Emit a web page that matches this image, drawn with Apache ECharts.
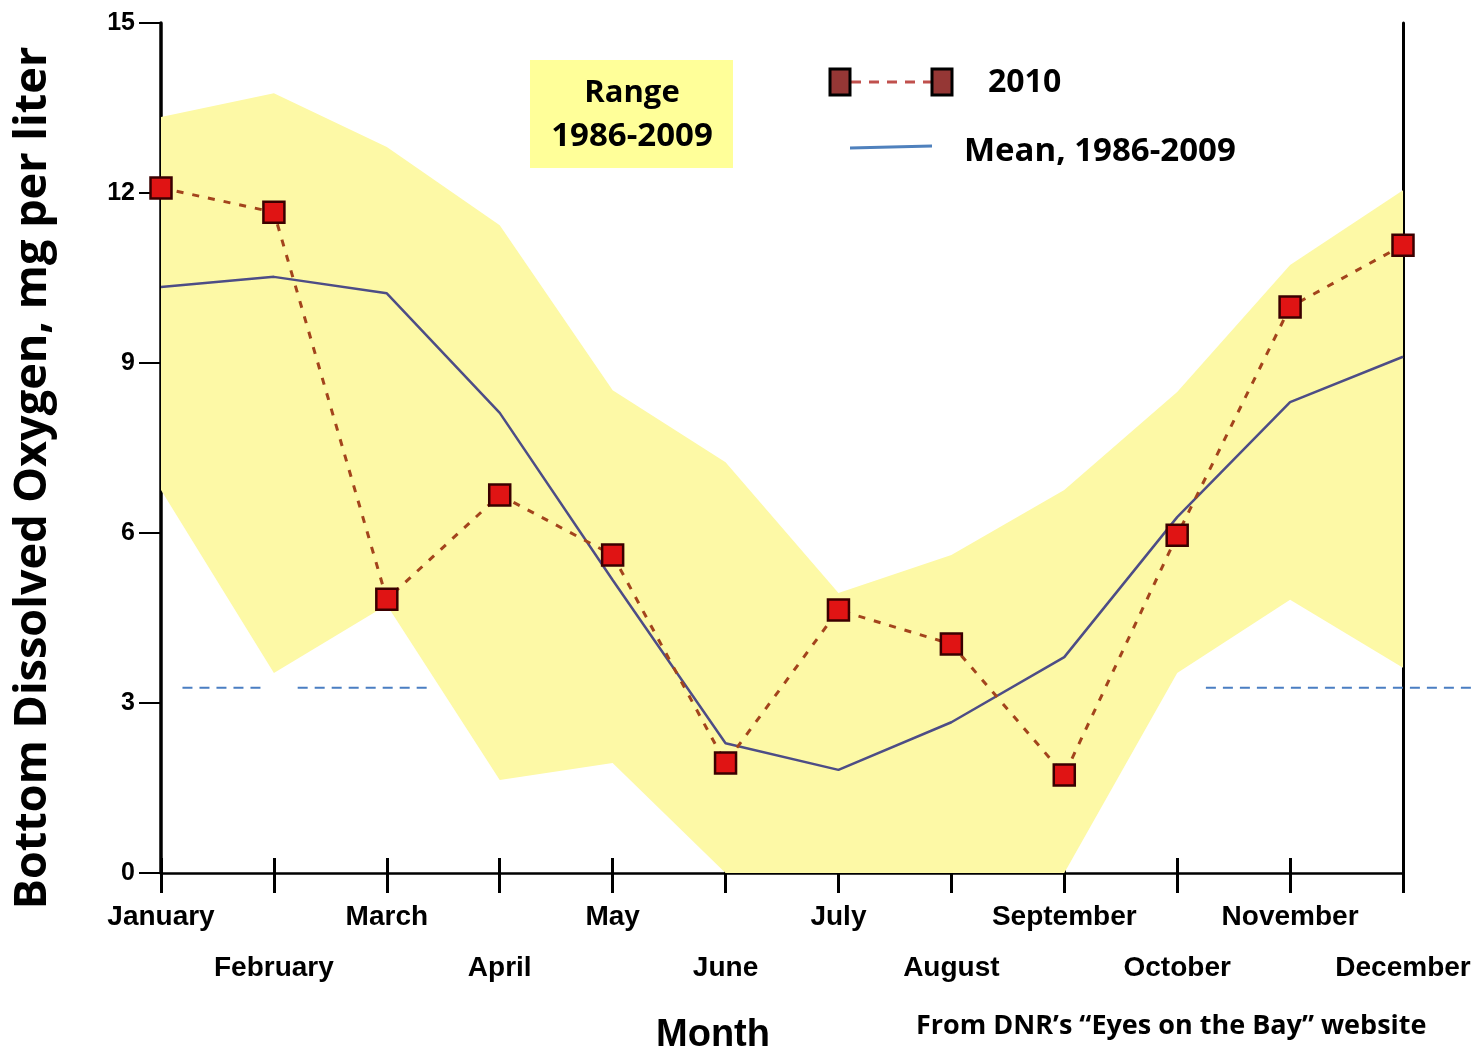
<!DOCTYPE html>
<html>
<head>
<meta charset="utf-8">
<script src="https://cdn.jsdelivr.net/npm/echarts@6/dist/echarts.min.js"></script>
<style>
html,body{margin:0;padding:0;background:#fff;}
#c{width:1477px;height:1053px;}
</style>
</head>
<body>
<div id="c"></div>
<script>
// ---- data ----
const months = ['January','February','March','April','May','June','July','August','September','October','November','December'];
const yTicks = [0, 3, 6, 9, 12, 15];
const obs2010 = [12.09, 11.66, 4.83, 6.67, 5.61, 1.94, 4.64, 4.04, 1.73, 5.96, 9.99, 11.08];
const mean8609 = [10.34, 10.52, 10.23, 8.12, 5.17, 2.29, 1.82, 2.66, 3.81, 6.28, 8.31, 9.11];
const rangeHigh = [13.34, 13.76, 12.81, 11.43, 8.52, 7.25, 4.94, 5.61, 6.76, 8.49, 10.73, 12.05];
const rangeLow = [6.76, 3.53, 4.73, 1.64, 1.94, 0, 0, 0, 0, 3.53, 4.82, 3.62];
const refLevel = 3.27;
const refSegments = [[0.19, 0.89], [1.21, 2.37], [9.25, 11.65]];

// ---- chart ----
const chart = echarts.init(document.getElementById('c'), null, {renderer: 'canvas'});
const bandDiff = rangeHigh.map((h, i) => +(h - rangeLow[i]).toFixed(2));
const yMin = yTicks[0], yMax = yTicks[yTicks.length - 1], yStep = yTicks[1] - yTicks[0];

const refSeries = refSegments.map(seg => ({
  type: 'line', xAxisIndex: 2, yAxisIndex: 2, silent: true, z: 1,
  symbol: 'none',
  data: [[seg[0], refLevel], [seg[1], refLevel]],
  lineStyle: {color: '#4a7ec2', width: 2, type: [10, 7]}
}));

chart.setOption({
  animation: false,
  backgroundColor: '#fff',
  grid: [
    {left: 161, right: 74, top: 23, bottom: 180},
    {left: 161, right: 0, top: 23, bottom: 180}
  ],
  xAxis: [
    {
      type: 'category', gridIndex: 0, data: months, boundaryGap: false, position: 'bottom',
      offset: -15,
      axisLine: {show: false},
      axisTick: {show: true, interval: 0, length: 35, lineStyle: {color: '#000', width: 3}},
      axisLabel: {
        interval: 0, margin: 34, color: '#000',
        fontFamily: 'Liberation Sans', fontWeight: 'bold', fontSize: 28, lineHeight: 51,
        formatter: (v, i) => (i % 2 ? '\n' + v : v)
      },
      splitLine: {show: false}
    },
    {
      type: 'category', gridIndex: 0, data: months, boundaryGap: false, position: 'top',
      axisLine: {show: true, lineStyle: {color: '#000', width: 2.5}},
      axisTick: {show: false}, axisLabel: {show: false}, splitLine: {show: false}
    },
    {type: 'value', gridIndex: 1, min: 0, max: 11.65, show: false}
  ],
  yAxis: [
    {
      type: 'value', gridIndex: 0, min: yMin, max: yMax, interval: yStep,
      axisLine: {show: true, lineStyle: {color: '#000', width: 3.5}},
      axisTick: {show: true, length: 22, lineStyle: {color: '#000', width: 2}},
      axisLabel: {margin: 26, color: '#000', fontFamily: 'Liberation Sans', fontWeight: 'bold', fontSize: 25},
      splitLine: {show: false}
    },
    {
      type: 'value', gridIndex: 0, min: yMin, max: yMax, interval: yStep, position: 'right',
      axisLine: {show: true, lineStyle: {color: '#000', width: 3}},
      axisTick: {show: false}, axisLabel: {show: false}, splitLine: {show: false}
    },
    {type: 'value', gridIndex: 1, min: yMin, max: yMax, show: false}
  ],
  series: [
    ...refSeries,
    {
      name: 'rangeLow', type: 'line', xAxisIndex: 0, yAxisIndex: 0, stack: 'range', silent: true, z: 2,
      symbol: 'none', data: rangeLow, lineStyle: {width: 0, opacity: 0}
    },
    {
      name: 'Range 1986-2009', type: 'line', xAxisIndex: 0, yAxisIndex: 0, stack: 'range', silent: true, z: 2,
      symbol: 'none', data: bandDiff, lineStyle: {width: 0, opacity: 0},
      areaStyle: {color: '#fdf9a6', opacity: 1}
    },
    {
      name: 'Mean, 1986-2009', type: 'line', xAxisIndex: 0, yAxisIndex: 0, z: 3,
      symbol: 'none', data: mean8609,
      lineStyle: {color: '#4d4d86', width: 2.5}
    },
    {
      name: '2010', type: 'line', xAxisIndex: 0, yAxisIndex: 0, z: 4,
      data: obs2010, symbol: 'rect', symbolSize: 21, showAllSymbol: true,
      lineStyle: {color: '#a3441c', width: 3, type: [7, 9]},
      itemStyle: {color: '#e01414', borderColor: '#3a0000', borderWidth: 2.5}
    }
  ],
  graphic: [
    {type: 'rect', shape: {x: 530, y: 60, width: 203, height: 108}, style: {fill: '#ffff99'}, z: 10},
    {type: 'text', x: 632, y: 93, z: 11, style: {text: 'Range', fill: '#000', fontFamily: '"Open Sans"', fontWeight: 'bold', fontSize: 31, textAlign: 'center', textVerticalAlign: 'middle'}},
    {type: 'text', x: 632, y: 137, z: 11, style: {text: '1986-2009', fill: '#000', fontFamily: '"Open Sans"', fontWeight: 'bold', fontSize: 33, textAlign: 'center', textVerticalAlign: 'middle'}},
    {type: 'line', z: 10, shape: {x1: 851, y1: 82, x2: 931, y2: 82}, style: {stroke: '#c0504d', lineWidth: 3, lineDash: [10, 8]}},
    {type: 'rect', z: 11, shape: {x: 830, y: 69, width: 20, height: 26}, style: {fill: '#953735', stroke: '#000', lineWidth: 3}},
    {type: 'rect', z: 11, shape: {x: 932, y: 69, width: 20, height: 26}, style: {fill: '#953735', stroke: '#000', lineWidth: 3}},
    {type: 'text', x: 988, y: 83, z: 11, style: {text: '2010', fill: '#000', fontFamily: '"Open Sans"', fontWeight: 'bold', fontSize: 32, textAlign: 'left', textVerticalAlign: 'middle'}},
    {type: 'line', z: 10, shape: {x1: 850, y1: 148, x2: 932, y2: 146}, style: {stroke: '#4f81bd', lineWidth: 3}},
    {type: 'text', x: 964, y: 152, z: 11, style: {text: 'Mean, 1986-2009', fill: '#000', fontFamily: '"Open Sans"', fontWeight: 'bold', fontSize: 33, textAlign: 'left', textVerticalAlign: 'middle'}},
    {type: 'text', x: 33, y: 478, rotation: Math.PI / 2, z: 11, style: {text: 'Bottom Dissolved Oxygen, mg per liter', fill: '#000', fontFamily: '"Open Sans"', fontWeight: 'bold', fontSize: 45, textAlign: 'center', textVerticalAlign: 'middle'}},
    {type: 'text', x: 713, y: 1036, z: 11, style: {text: 'Month', fill: '#000', fontFamily: '"Liberation Sans"', fontWeight: 'bold', fontSize: 38, textAlign: 'center', textVerticalAlign: 'middle'}},
    {type: 'text', x: 916, y: 1026, z: 11, style: {text: 'From DNR\u2019s \u201cEyes on the Bay\u201d website', fill: '#000', fontFamily: '"Open Sans"', fontWeight: 'bold', fontSize: 27, textAlign: 'left', textVerticalAlign: 'middle'}}
  ]
});
</script>
</body>
</html>
